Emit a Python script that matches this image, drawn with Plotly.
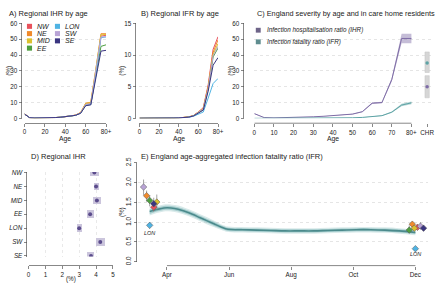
import plotly.graph_objects as go

W, H = 440, 287
def fx(p): return p / W
def fy(p): return 1 - p / H

FONT = "Liberation Sans, Arial, sans-serif"

# ---------------- data ----------------
ages = [0, 5, 10, 15, 20, 25, 30, 35, 40, 45, 50, 55, 60, 65, 70, 75, 80]
age_ticks = [0, 20, 40, 60, 80]
age_ticktext = ["0", "20", "40", "60", "80+"]

regions = ["NW", "NE", "MID", "EE", "LON", "SW", "SE"]
region_colors = ["#e8515b", "#f08a2c", "#dcc12e", "#4f9f40", "#4fb3e3", "#b9a4d6", "#3a3580"]

# Panel A: regional IHR by age (%)
ihr_nw = [2.8, 0.4, 0.2, 0.2, 0.3, 0.4, 0.5, 0.7, 1.0, 1.4, 2.0, 3.5, 9.0, 9.3, 29.0, 52.0, 52.5]
ihr_ne = [2.8, 0.4, 0.2, 0.2, 0.3, 0.4, 0.5, 0.7, 1.0, 1.4, 2.1, 3.7, 9.6, 10.2, 31.0, 53.5, 53.5]
ihr_mid = [2.8, 0.4, 0.2, 0.2, 0.3, 0.4, 0.5, 0.7, 1.0, 1.4, 2.0, 3.6, 9.3, 10.0, 30.0, 52.8, 53.0]
ihr_ee = [2.7, 0.4, 0.2, 0.2, 0.3, 0.4, 0.5, 0.7, 1.0, 1.3, 1.9, 3.3, 8.3, 8.8, 27.0, 45.5, 46.5]
ihr_lon = [2.7, 0.4, 0.2, 0.2, 0.3, 0.4, 0.5, 0.7, 1.0, 1.3, 1.9, 3.3, 8.5, 8.8, 28.0, 51.0, 51.5]
ihr_sw = [2.8, 0.4, 0.2, 0.2, 0.3, 0.4, 0.5, 0.7, 1.0, 1.4, 2.0, 3.4, 8.8, 9.2, 29.0, 51.5, 51.5]
ihr_se = [2.7, 0.4, 0.2, 0.2, 0.3, 0.4, 0.5, 0.7, 1.0, 1.3, 1.9, 3.2, 8.0, 8.5, 25.0, 42.5, 43.0]

# Panel B: regional IFR by age (%)
ifr_nw = [0.01, 0.0, 0.0, 0.01, 0.01, 0.02, 0.03, 0.05, 0.08, 0.13, 0.22, 0.45, 1.0, 1.7, 5.3, 10.9, 12.9]
ifr_ne = [0.01, 0.0, 0.0, 0.01, 0.01, 0.02, 0.03, 0.05, 0.08, 0.13, 0.22, 0.45, 1.0, 1.6, 5.0, 10.4, 12.4]
ifr_mid = [0.01, 0.0, 0.0, 0.01, 0.01, 0.02, 0.03, 0.05, 0.08, 0.12, 0.21, 0.42, 0.95, 1.5, 4.8, 10.1, 11.8]
ifr_ee = [0.01, 0.0, 0.0, 0.01, 0.01, 0.02, 0.03, 0.05, 0.07, 0.12, 0.2, 0.4, 0.9, 1.4, 4.6, 9.7, 11.1]
ifr_lon = [0.01, 0.0, 0.0, 0.01, 0.01, 0.02, 0.03, 0.04, 0.06, 0.1, 0.17, 0.33, 0.7, 1.0, 3.2, 5.5, 6.3]
ifr_sw = [0.01, 0.0, 0.0, 0.01, 0.01, 0.02, 0.03, 0.05, 0.07, 0.12, 0.2, 0.41, 0.9, 1.5, 4.7, 9.9, 11.4]
ifr_se = [0.01, 0.0, 0.0, 0.01, 0.01, 0.02, 0.03, 0.05, 0.07, 0.11, 0.19, 0.38, 0.85, 1.3, 4.3, 8.4, 9.6]

# Panel C: England IHR / IFR by age with uncertainty (%)
eng_ihr = [3.0, 0.5, 0.3, 0.4, 0.6, 0.8, 1.0, 1.3, 1.7, 2.2, 2.7, 4.2, 9.6, 10.0, 24.5, 50.5, 50.5]
eng_ihr_lo = [2.8, 0.4, 0.25, 0.35, 0.55, 0.75, 0.95, 1.2, 1.6, 2.1, 2.5, 3.9, 9.1, 9.5, 23.3, 47.5, 47.5]
eng_ihr_hi = [3.2, 0.6, 0.35, 0.45, 0.65, 0.85, 1.05, 1.4, 1.8, 2.3, 2.9, 4.5, 10.1, 10.5, 25.7, 53.5, 53.5]
eng_ifr = [0.01, 0.0, 0.0, 0.01, 0.02, 0.03, 0.05, 0.08, 0.13, 0.21, 0.35, 0.6, 1.1, 1.7, 3.9, 8.4, 9.8]
eng_ifr_lo = [0.0, 0.0, 0.0, 0.0, 0.01, 0.02, 0.04, 0.07, 0.11, 0.18, 0.3, 0.52, 0.95, 1.5, 3.5, 7.6, 9.0]
eng_ifr_hi = [0.02, 0.01, 0.01, 0.02, 0.03, 0.04, 0.06, 0.09, 0.15, 0.24, 0.4, 0.68, 1.25, 1.9, 4.3, 9.2, 10.6]
chr_x = 88
chr_ifr, chr_ifr_lo, chr_ifr_hi = 35.0, 29.0, 42.0
chr_ihr, chr_ihr_lo, chr_ihr_hi = 20.0, 13.0, 27.0

# Panel D: regional IHR (%)
d_ihr = [3.9, 4.0, 4.05, 3.65, 3.0, 4.25, 3.7]
d_ihr_lo = [3.65, 3.85, 3.8, 3.45, 2.85, 4.0, 3.45]
d_ihr_hi = [4.15, 4.15, 4.3, 3.85, 3.15, 4.55, 3.9]

# Panel E: England age-aggregated IFR over time (%)
e_dates = ["2020-03-15", "2020-03-22", "2020-03-29", "2020-04-05", "2020-04-12", "2020-04-19",
           "2020-04-26", "2020-05-03", "2020-05-10", "2020-05-17", "2020-05-24", "2020-05-31",
           "2020-06-14", "2020-06-28", "2020-07-12", "2020-07-26", "2020-08-09", "2020-08-23",
           "2020-09-06", "2020-09-20", "2020-10-04", "2020-10-18", "2020-11-01", "2020-11-15",
           "2020-12-01"]
e_ifr = [1.27, 1.32, 1.36, 1.36, 1.33, 1.27, 1.20, 1.12, 1.04, 0.96, 0.88, 0.82,
         0.81, 0.80, 0.79, 0.78, 0.78, 0.78, 0.79, 0.80, 0.81, 0.81, 0.80, 0.78, 0.74]
e_ifr_lo1 = [1.21, 1.27, 1.31, 1.31, 1.28, 1.22, 1.15, 1.07, 0.99, 0.91, 0.84, 0.78,
             0.77, 0.76, 0.75, 0.74, 0.74, 0.74, 0.75, 0.76, 0.77, 0.77, 0.76, 0.74, 0.70]
e_ifr_hi1 = [1.33, 1.37, 1.41, 1.41, 1.38, 1.32, 1.25, 1.17, 1.09, 1.01, 0.92, 0.86,
             0.85, 0.84, 0.83, 0.82, 0.82, 0.82, 0.83, 0.84, 0.85, 0.85, 0.84, 0.82, 0.78]
e_ifr_lo2 = [1.17, 1.23, 1.27, 1.27, 1.24, 1.18, 1.11, 1.03, 0.95, 0.88, 0.81, 0.75,
             0.74, 0.73, 0.72, 0.71, 0.71, 0.71, 0.72, 0.73, 0.74, 0.74, 0.73, 0.71, 0.67]
e_ifr_hi2 = [1.37, 1.41, 1.45, 1.45, 1.42, 1.36, 1.29, 1.21, 1.13, 1.04, 0.95, 0.89,
             0.88, 0.87, 0.86, 0.85, 0.85, 0.85, 0.86, 0.87, 0.88, 0.88, 0.87, 0.85, 0.81]

# regional sero-based IFR estimates: spring round and winter round
spring_dates = ["2020-03-19", "2020-03-12", "2020-03-22", "2020-03-15", "2020-03-15", "2020-03-09", "2020-03-19"]
spring_ifr = [1.38, 1.67, 1.51, 1.55, 0.92, 1.89, 1.47]
spring_lo = [1.26, 1.52, 1.32, 1.40, 0.84, 1.69, 1.32]
spring_hi = [1.50, 1.80, 1.70, 1.68, 0.99, 2.08, 1.62]
winter_dates = ["2020-12-03", "2020-11-28", "2020-11-30", "2020-11-25", "2020-12-01", "2020-12-06", "2020-12-09"]
winter_ifr = [0.87, 0.95, 0.85, 0.80, 0.33, 0.90, 0.85]
winter_lo = [0.80, 0.88, 0.77, 0.72, 0.30, 0.83, 0.79]
winter_hi = [0.93, 1.02, 0.95, 0.92, 0.37, 1.00, 0.92]

month_ticks = ["2020-04-01", "2020-06-01", "2020-08-01", "2020-10-01", "2020-12-01"]
month_text = ["Apr", "Jun", "Aug", "Oct", "Dec"]

# ---------------- figure ----------------
fig = go.Figure()

ihr_sets = [ihr_nw, ihr_ne, ihr_mid, ihr_ee, ihr_lon, ihr_sw, ihr_se]
ifr_sets = [ifr_nw, ifr_ne, ifr_mid, ifr_ee, ifr_lon, ifr_sw, ifr_se]
for vals, col in zip(ihr_sets, region_colors):
    fig.add_trace(go.Scatter(x=ages, y=vals, mode="lines", line=dict(color=col, width=1),
                             xaxis="x", yaxis="y", showlegend=False, hoverinfo="skip"))
for vals, col in zip(ifr_sets, region_colors):
    fig.add_trace(go.Scatter(x=ages, y=vals, mode="lines", line=dict(color=col, width=1),
                             xaxis="x2", yaxis="y2", showlegend=False, hoverinfo="skip"))

# Panel C
IHR_COL = "#7e6ca6"
IFR_COL = "#5ea3a5"
for lo, hi, mid, col, fillc in [(eng_ihr_lo, eng_ihr_hi, eng_ihr, IHR_COL, "rgba(126,108,166,0.45)"),
                                (eng_ifr_lo, eng_ifr_hi, eng_ifr, IFR_COL, "rgba(94,163,165,0.45)")]:
    fig.add_trace(go.Scatter(x=ages, y=lo, mode="lines", line=dict(width=0), xaxis="x3", yaxis="y3",
                             showlegend=False, hoverinfo="skip"))
    fig.add_trace(go.Scatter(x=ages, y=hi, mode="lines", line=dict(width=0), fill="tonexty",
                             fillcolor=fillc, xaxis="x3", yaxis="y3", showlegend=False, hoverinfo="skip"))
    fig.add_trace(go.Scatter(x=ages, y=mid, mode="lines", line=dict(color=col, width=1),
                             xaxis="x3", yaxis="y3", showlegend=False, hoverinfo="skip"))
# CHR boxes
fig.add_trace(go.Bar(x=[chr_x, chr_x], y=[chr_ifr_hi - chr_ifr_lo, chr_ihr_hi - chr_ihr_lo],
                     base=[chr_ifr_lo, chr_ihr_lo], width=2.2,
                     marker=dict(color="#d6d6d6", line=dict(color="#c4c4c4", width=0.5)),
                     xaxis="x3", yaxis="y3", showlegend=False, hoverinfo="skip"))
fig.add_trace(go.Scatter(x=[chr_x], y=[chr_ifr], mode="markers", marker=dict(color=IFR_COL, size=3.5),
                         xaxis="x3", yaxis="y3", showlegend=False, hoverinfo="skip"))
fig.add_trace(go.Scatter(x=[chr_x], y=[chr_ihr], mode="markers", marker=dict(color=IHR_COL, size=3.5),
                         xaxis="x3", yaxis="y3", showlegend=False, hoverinfo="skip"))

# Panel D
ypos = list(range(len(regions)))
fig.add_trace(go.Bar(y=ypos, x=[h - l for h, l in zip(d_ihr_hi, d_ihr_lo)], base=d_ihr_lo,
                     orientation="h", width=0.55, marker=dict(color="#cbc5dc", line=dict(width=0)),
                     xaxis="x4", yaxis="y4", showlegend=False, hoverinfo="skip"))
fig.add_trace(go.Scatter(x=d_ihr, y=ypos, mode="markers", marker=dict(color="#5b4c8c", size=4),
                         xaxis="x4", yaxis="y4", showlegend=False, hoverinfo="skip"))

# Panel E
for lo, hi, fc in [(e_ifr_lo2, e_ifr_hi2, "rgba(170,208,209,0.45)"), (e_ifr_lo1, e_ifr_hi1, "rgba(120,178,180,0.55)")]:
    fig.add_trace(go.Scatter(x=e_dates, y=lo, mode="lines", line=dict(width=0, shape="spline"),
                             xaxis="x5", yaxis="y5", showlegend=False, hoverinfo="skip"))
    fig.add_trace(go.Scatter(x=e_dates, y=hi, mode="lines", line=dict(width=0, shape="spline"),
                             fill="tonexty", fillcolor=fc, xaxis="x5", yaxis="y5",
                             showlegend=False, hoverinfo="skip"))
fig.add_trace(go.Scatter(x=e_dates, y=e_ifr, mode="lines", line=dict(color="#4b8a8c", width=1.6, shape="spline"),
                         xaxis="x5", yaxis="y5", showlegend=False, hoverinfo="skip"))
for dts, v, lo, hi in [(spring_dates, spring_ifr, spring_lo, spring_hi), (winter_dates, winter_ifr, winter_lo, winter_hi)]:
    fig.add_trace(go.Scatter(x=dts, y=v, mode="markers",
                             error_y=dict(type="data", symmetric=False,
                                          array=[h - m for h, m in zip(hi, v)],
                                          arrayminus=[m - l for m, l in zip(v, lo)],
                                          color="#8a8a8a", thickness=0.8, width=0),
                             marker=dict(color=region_colors, size=5, symbol="diamond",
                                         line=dict(color="#555555", width=0.5)),
                             xaxis="x5", yaxis="y5", showlegend=False, hoverinfo="skip"))

# ---------------- axes ----------------
TXT = "#222222"
tickfont = dict(family=FONT, size=6.3, color=TXT)
common = dict(showline=True, linecolor="#555555", linewidth=0.7, ticks="outside", ticklen=3,
              tickwidth=0.7, tickcolor="#555555", tickfont=tickfont, zeroline=False,
              showgrid=False, fixedrange=True)
grid = dict(showgrid=True, gridcolor="#dadada", gridwidth=0.7, griddash="dot")

def xd(a, b): return [fx(a), fx(b)]
def yd(top, bottom): return [fy(bottom), fy(top)]

layout = dict(
    width=W, height=H, margin=dict(l=0, r=0, t=0, b=0),
    paper_bgcolor="white", plot_bgcolor="white", font=dict(family=FONT, color=TXT),
    bargap=0, barmode="overlay",
    xaxis=dict(common, domain=xd(23, 106), range=[0, 80], anchor="free", position=fy(121),
               tickvals=age_ticks, ticktext=age_ticktext),
    yaxis=dict(common, **grid, domain=yd(18, 116), range=[0, 60], anchor="free", position=fx(20),
               tickvals=[0, 10, 20, 30, 40, 50, 60]),
    xaxis2=dict(common, domain=xd(140, 220), range=[0, 80], anchor="free", position=fy(121),
                tickvals=age_ticks, ticktext=age_ticktext),
    yaxis2=dict(common, **grid, domain=yd(18, 116), range=[0, 15], anchor="free", position=fx(136),
                tickvals=[0, 5, 10, 15]),
    xaxis3=dict(common, domain=xd(257, 437), range=[0, 90], anchor="free", position=fy(121),
                tickvals=[0, 10, 20, 30, 40, 50, 60, 70, 80, 88],
                ticktext=["0", "10", "20", "30", "40", "50", "60", "70", "80+", "CHR"]),
    yaxis3=dict(common, **grid, domain=yd(18, 116), range=[0, 60], anchor="free", position=fx(246),
                tickvals=[0, 10, 20, 30, 40, 50, 60]),
    xaxis4=dict(common, domain=xd(27, 113), range=[0, 5], anchor="free", position=fy(268),
                tickvals=[0, 1, 2, 3, 4, 5], showgrid=True, gridcolor="#e0e0e0", gridwidth=0.7,
                griddash="dot"),
    yaxis4=dict(common, domain=yd(171.3, 258.7), range=[6.05, -0.05], anchor="free", position=fx(25),
                tickvals=ypos, ticktext=["<i>%s</i>" % r for r in regions]),
    xaxis5=dict(common, type="date", domain=xd(139, 434), range=["2020-03-04", "2020-12-13 12:00"],
                anchor="free", position=fy(268), tickvals=month_ticks, ticktext=month_text),
    yaxis5=dict(common, **grid, domain=yd(162, 264), range=[0, 2.5], anchor="free", position=fx(137),
                tickvals=[0, 0.5, 1, 1.5, 2, 2.5], ticktext=["0.0", "0.5", "1.0", "1.5", "2.0", "2.5"],
                tickangle=-90),
)
layout["xaxis3"]["showline"] = False
layout["xaxis5"]["showline"] = False
fig.update_layout(**layout)

shapes = [
    dict(type="line", xref="x3", yref="paper", x0=0, x1=80, y0=fy(121), y1=fy(121),
         line=dict(color="#555555", width=0.7)),
    dict(type="line", xref="x5", yref="paper", x0="2020-04-01", x1="2020-12-01", y0=fy(268), y1=fy(268),
         line=dict(color="#555555", width=0.7)),
]
annotations = []

def ann(text, x, y, size=6.5, xanchor="left", yanchor="middle", angle=0, italic=False, color=TXT):
    if italic:
        text = "<i>%s</i>" % text
    annotations.append(dict(text=text, x=fx(x), y=fy(y), xref="paper", yref="paper", showarrow=False,
                            xanchor=xanchor, yanchor=yanchor, textangle=angle,
                            font=dict(family=FONT, size=size, color=color)))

# titles
TS = 7.5
ann("A) Regional IHR by age", 5, 8, size=TS)
ann("B) Regional IFR by age", 140, 8, size=TS)
ann("C) England severity by age and in care home residents", 258, 8, size=7.3)
ann("D) Regional IHR", 27, 155, size=TS)
ann("E) England age-aggregated infection fatality ratio (IFR)", 140, 155, size=TS)
# axis titles
for x in (64.5, 180, 337):
    ann("Age", x, 137, size=6.8, xanchor="center")
for x in (7, 122, 233):
    ann("(%)", x, 67, size=6.3, xanchor="center", angle=-90)
ann("(%)", 123, 213, size=6.3, xanchor="center", angle=-90)
ann("(%)", 70, 282, size=6.3, xanchor="center")
# LON labels in E (positioned in data space)
annotations.append(dict(text="<i>LON</i>", x="2020-03-15", y=0.72, xref="x5", yref="y5", showarrow=False,
                        font=dict(family=FONT, size=5.5, color=TXT)))
annotations.append(dict(text="<i>LON</i>", x="2020-12-01", y=0.19, xref="x5", yref="y5", showarrow=False,
                        font=dict(family=FONT, size=5.5, color=TXT)))

# legend A
leg_pos = [(28, 21), (28, 28.5), (28, 36), (28, 43.5), (56.5, 21), (56.5, 28.5), (56.5, 36)]
for (cx, cy), name, col in zip(leg_pos, regions, region_colors):
    shapes.append(dict(type="rect", xref="paper", yref="paper", x0=fx(cx - 2.6), x1=fx(cx + 2.6),
                       y0=fy(cy + 2.6), y1=fy(cy - 2.6), fillcolor=col, line=dict(width=0)))
    ann(name, cx + 6, cy, size=7, italic=True)
# legend C
for cy, name, col in [(25, "Infection hospitalisation ratio (IHR)", "#6e6488"),
                      (37, "Infection fatality ratio (IFR)", "#5f8d8f")]:
    shapes.append(dict(type="rect", xref="paper", yref="paper", x0=fx(258.5), x1=fx(263.5),
                       y0=fy(cy + 2.5), y1=fy(cy - 2.5), fillcolor=col, line=dict(width=0)))
    ann(name, 268, cy, size=6.3, italic=True)

fig.update_layout(shapes=shapes, annotations=annotations)
fig.write_html("out.html", config={"displayModeBar": False, "staticPlot": True},
               post_script="document.body.style.margin='0';document.body.style.padding='0';")
